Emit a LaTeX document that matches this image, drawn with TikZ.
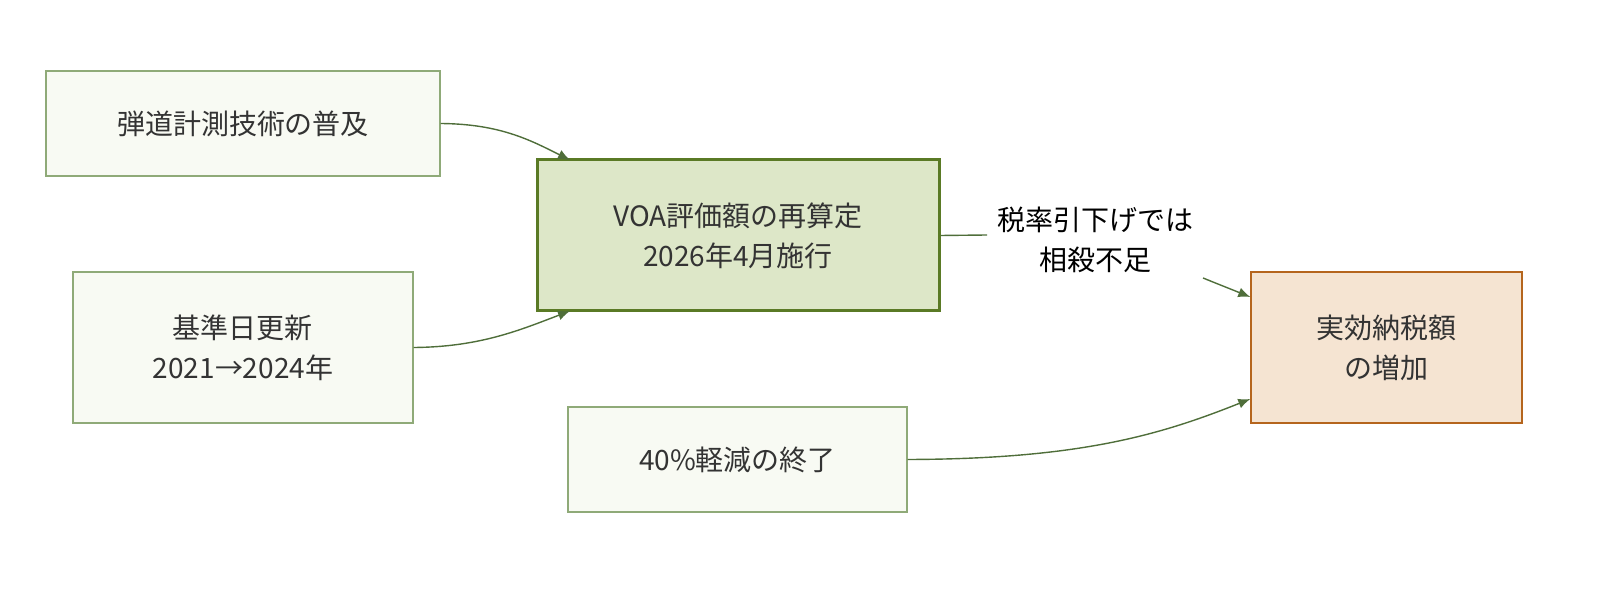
\documentclass[tikz,border=0pt]{standalone}
\usepackage{fontspec}
\setmainfont{Noto Sans CJK JP}
\usetikzlibrary{arrows.meta}
\definecolor{lbox}{HTML}{F8FAF3}
\definecolor{lbord}{HTML}{8FAA78}
\definecolor{mbox}{HTML}{DDE7C8}
\definecolor{mbord}{HTML}{5A7A25}
\definecolor{obox}{HTML}{F5E4D2}
\definecolor{obord}{HTML}{B5651D}
\definecolor{edge}{HTML}{4F6E3A}
\definecolor{txt}{HTML}{333333}
\begin{document}
\begin{tikzpicture}[x=0.5pt,y=-0.5pt,
  box/.style={draw=lbord,fill=lbox,line width=0.7pt,text=txt,font=\fontsize{14}{20}\selectfont,align=center,inner sep=0pt},
  ed/.style={draw=edge,line width=0.7pt,-{Latex[length=6pt,width=5pt]}}]
\useasboundingbox (0,0) rectangle (1624,608);
\node[box,minimum width=197pt,minimum height=52.5pt] (a) at (243,123.5) {弾道計測技術の普及};
\node[box,minimum width=170pt,minimum height=75.5pt] (b) at (243,347.5) {基準日更新\\2021→2024年};
\node[box,fill=mbox,draw=mbord,line width=1.5pt,minimum width=201pt,minimum height=75.5pt] (c) at (738,235.5) {VOA評価額の再算定\\2026年4月施行};
\node[box,minimum width=169.5pt,minimum height=52.5pt] (d) at (737.5,459.5) {40\%軽減の終了};
\node[box,fill=obox,draw=obord,minimum width=135.5pt,minimum height=75.5pt] (e) at (1386.5,347.5) {実効納税額\\の増加};
\draw[ed] (a.east) .. controls (500,124) and (530,140) .. (570,160);
\draw[ed] (b.east) .. controls (480,347) and (520,330) .. (570,311);
\draw[ed] (d.east) .. controls (1080,459) and (1160,435) .. (e.west|-0,399);
\node[text=black,font=\fontsize{14}{20}\selectfont,align=center] (l) at (1095,240) {税率引下げでは\\相殺不足};
\coordinate (l1) at (987,235);
\coordinate (l2) at (1203,278);
\draw[draw=edge,line width=0.7pt] (c.east) -- (l1);
\draw[ed] (l2) -- (e.west|-0,297);
\end{tikzpicture}
\end{document}
